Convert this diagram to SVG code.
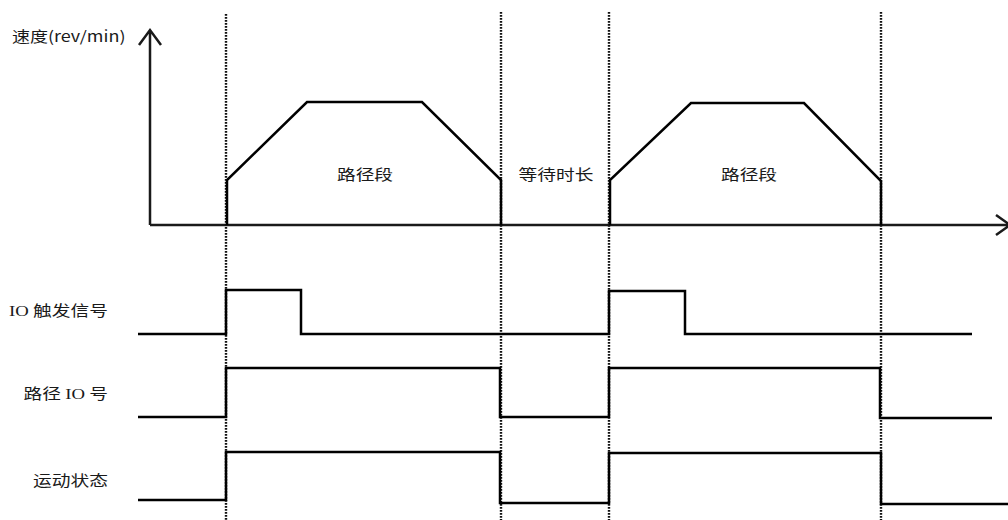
<svg xmlns="http://www.w3.org/2000/svg" width="1008" height="520" viewBox="0 0 1008 520">
<style>
.ln{fill:none;stroke:#000;stroke-width:2.5;stroke-linejoin:miter}
.ax{fill:none;stroke:#1a1a1a;stroke-width:2.5}
.dot{fill:none;stroke:#111;stroke-width:2.4;stroke-dasharray:1.8 1.2}
.t{font-family:"Noto Sans CJK SC","Liberation Sans",sans-serif;font-size:15px;fill:#1a1a1a}
.s{font-family:"Liberation Serif","Noto Sans CJK SC",serif}
</style>
<rect width="1008" height="520" fill="#fff"/>
<g id="axes">
<path class="ax" d="M150,225 V30 M139,45 L150,30 L161,45"/>
<path class="ax" d="M150,225 H1008 M996,215 L1010,225 L996,235"/>
<text class="t" transform="translate(12,42) scale(1.2,1)">速度(rev/min)</text>
</g>
<g id="guides">
<line class="dot" x1="226" y1="14" x2="226" y2="520"/>
<line class="dot" x1="501" y1="12" x2="501" y2="520"/>
<line class="dot" x1="609" y1="12" x2="609" y2="520"/>
<line class="dot" x1="881" y1="12" x2="881" y2="520"/>
</g>
<g id="speed">
<path class="ln" d="M227,225 V180 L307,102 H422 L501,180 V225"/>
<path class="ln" d="M610,225 V180 L691,103 H804 L881,181 V225"/>
<text class="t" transform="translate(365,180) scale(1.25,1)" text-anchor="middle">路径段</text>
<text class="t" transform="translate(556,180) scale(1.25,1)" text-anchor="middle">等待时长</text>
<text class="t" transform="translate(749,180) scale(1.25,1)" text-anchor="middle">路径段</text>
</g>
<g id="io-trigger">
<text class="t" transform="translate(108,316) scale(1.25,1)" text-anchor="end"><tspan class="s">IO</tspan> 触发信号</text>
<path class="ln" d="M138,334 H226 V290 H301 V334 H609 V291 H685 V334 H972"/>
</g>
<g id="path-io">
<text class="t" transform="translate(108,399) scale(1.25,1)" text-anchor="end">路径 <tspan class="s">IO</tspan> 号</text>
<path class="ln" d="M138,417 H226 V368 H500 V417 H609 V368 H880 V418 H992"/>
</g>
<g id="motion">
<text class="t" transform="translate(108,486) scale(1.25,1)" text-anchor="end">运动状态</text>
<path class="ln" d="M138,500 H226 V452 H500 V503 H609 V453 H881 V504 H1008"/>
</g>
</svg>
